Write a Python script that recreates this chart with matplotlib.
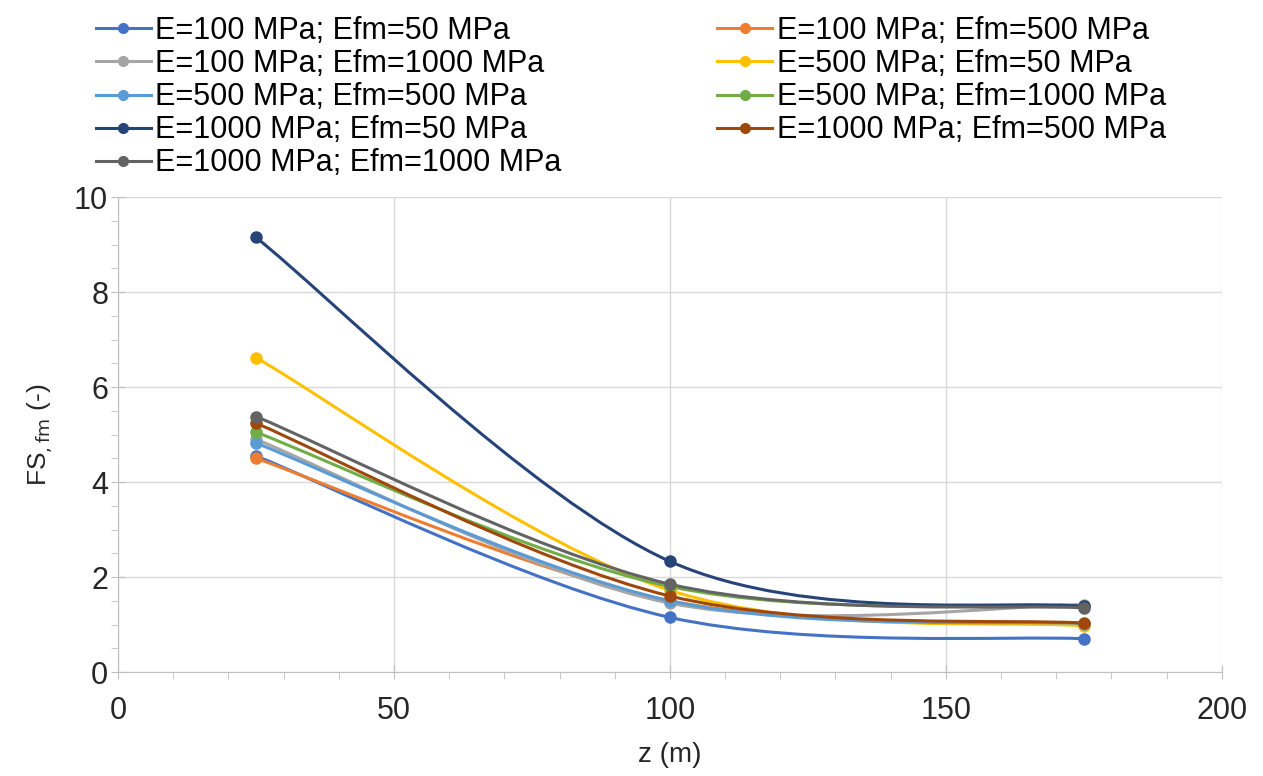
import numpy as np
import matplotlib
matplotlib.use("Agg")
import matplotlib.pyplot as plt
from matplotlib.path import Path
from matplotlib.patches import PathPatch
from matplotlib.lines import Line2D
from matplotlib.ticker import MultipleLocator

plt.rcParams['font.family'] = ['Liberation Sans', 'DejaVu Sans']

z = [25, 100, 175]

labels = [
    "E=100 MPa; Efm=50 MPa",
    "E=100 MPa; Efm=500 MPa",
    "E=100 MPa; Efm=1000 MPa",
    "E=500 MPa; Efm=50 MPa",
    "E=500 MPa; Efm=500 MPa",
    "E=500 MPa; Efm=1000 MPa",
    "E=1000 MPa; Efm=50 MPa",
    "E=1000 MPa; Efm=500 MPa",
    "E=1000 MPa; Efm=1000 MPa",
]
fs_100_50 = [4.55, 1.15, 0.70]
fs_100_500 = [4.50, 1.50, 1.02]
fs_100_1000 = [4.90, 1.45, 1.42]
fs_500_50 = [6.62, 1.72, 0.97]
fs_500_500 = [4.82, 1.50, 1.02]
fs_500_1000 = [5.05, 1.80, 1.38]
fs_1000_50 = [9.15, 2.33, 1.38]
fs_1000_500 = [5.24, 1.60, 1.03]
fs_1000_1000 = [5.38, 1.85, 1.35]

series = [fs_100_50, fs_100_500, fs_100_1000, fs_500_50, fs_500_500,
          fs_500_1000, fs_1000_50, fs_1000_500, fs_1000_1000]
colors = ['#4472C4', '#ED7D31', '#A5A5A5', '#FFC000', '#5B9BD5',
          '#70AD47', '#264478', '#9E480E', '#636363']


def smooth_path(xs, ys):
    # Excel-like smoothed line: cubic Bezier through the points
    p = np.column_stack([xs, ys]).astype(float)
    n = len(p)
    verts = [p[0]]
    codes = [Path.MOVETO]
    for i in range(n - 1):
        prev = p[i - 1] if i > 0 else p[i]
        nxt = p[i + 2] if i + 2 < n else p[i + 1]
        c1 = p[i] + (p[i + 1] - prev) / 6
        c2 = p[i + 1] - (nxt - p[i]) / 6
        verts += [c1, c2, p[i + 1]]
        codes += [Path.CURVE4] * 3
    return Path(verts, codes)


fig = plt.figure(figsize=(12.63, 7.76), dpi=100)
ax = fig.add_axes([0.0934, 0.134, 0.874, 0.612])

handles = []
for ys, c, lab in zip(series, colors, labels):
    patch = PathPatch(smooth_path(z, ys), facecolor='none', edgecolor=c,
                      lw=2.2, capstyle='round', joinstyle='round', zorder=3)
    ax.add_patch(patch)
    ax.plot(z, ys, 'o', color=c, ms=8, zorder=4)
    handles.append(Line2D([], [], color=c, lw=2.2, marker='o', ms=7, label=lab))

ax.set_xlim(0, 200)
ax.set_ylim(0, 10)
ax.xaxis.set_major_locator(MultipleLocator(50))
ax.xaxis.set_minor_locator(MultipleLocator(10))
ax.yaxis.set_major_locator(MultipleLocator(2))
ax.yaxis.set_minor_locator(MultipleLocator(0.5))
ax.grid(True, which='major', color='#D9D9D9', lw=1)
ax.set_axisbelow(True)
for s in ['top', 'right']:
    ax.spines[s].set_visible(False)
for s in ['left', 'bottom']:
    ax.spines[s].set_color('#BFBFBF')
ax.tick_params(which='major', direction='inout', length=10, color='#BFBFBF',
               labelsize=22, labelcolor='#262626')
ax.tick_params(axis='x', which='major', pad=12)
ax.tick_params(axis='y', which='major', pad=2)
ax.tick_params(which='minor', direction='out', length=5, color='#BFBFBF')
ax.set_xlabel('z (m)', fontsize=20, color='#262626', labelpad=12)
ax.set_ylabel(r'FS$_{\mathrm{,fm}}$ (-)', fontsize=19, color='#262626',
              labelpad=14)

order = [0, 2, 4, 6, 8, 1, 3, 5, 7]
fig.legend([handles[i] for i in order], [labels[i] for i in order],
           ncol=2, loc='upper left', bbox_to_anchor=(0.066, 0.995),
           frameon=False, fontsize=22, handlelength=1.8, handletextpad=0.15,
           columnspacing=5.1, labelspacing=0.1, borderaxespad=0)

fig.savefig('out.png', dpi=100)
